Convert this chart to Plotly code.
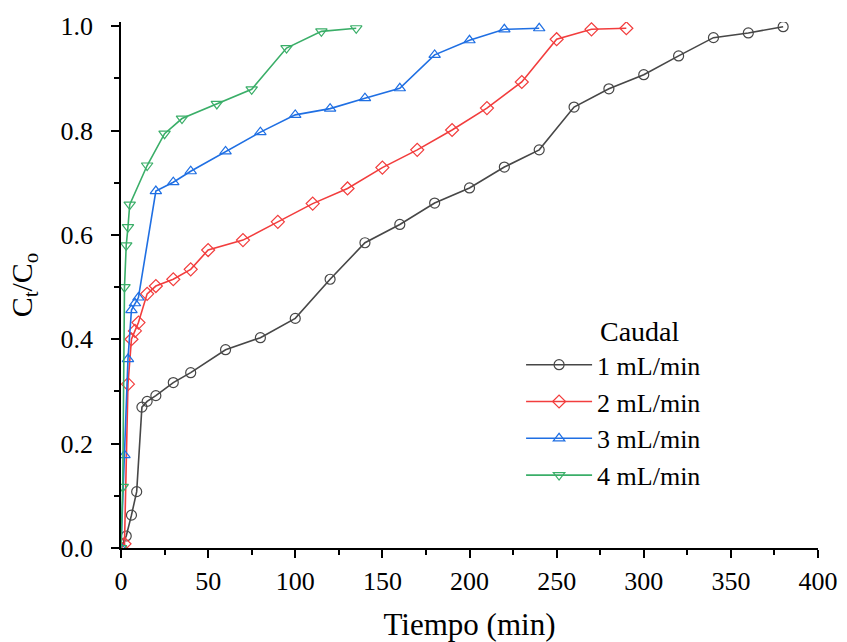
import plotly.graph_objects as go

# Caudal 1 mL/min
t1 = [0, 3, 6, 9, 12, 15, 20, 30, 40, 60, 80, 100, 120, 140, 160, 180, 200,
      220, 240, 260, 280, 300, 320, 340, 360, 380]
c1 = [0, 0.023, 0.063, 0.108, 0.270, 0.281, 0.292, 0.317, 0.336, 0.380, 0.403,
      0.440, 0.515, 0.585, 0.620, 0.661, 0.690, 0.730, 0.763, 0.845, 0.880,
      0.907, 0.943, 0.978, 0.987, 0.999]

# Caudal 2 mL/min
t2 = [0, 2, 4, 6, 8, 10, 15, 20, 30, 40, 50, 70, 90, 110, 130, 150, 170, 190,
      210, 230, 250, 270, 290]
c2 = [0, 0.008, 0.314, 0.400, 0.416, 0.432, 0.487, 0.502, 0.515, 0.534, 0.571,
      0.590, 0.625, 0.660, 0.689, 0.729, 0.763, 0.801, 0.843, 0.893, 0.975,
      0.994, 0.996]

# Caudal 3 mL/min
t3 = [0, 2, 4, 6, 8, 10, 20, 30, 40, 60, 80, 100, 120, 140, 160, 180, 200, 220, 240]
c3 = [0, 0.178, 0.362, 0.456, 0.469, 0.480, 0.684, 0.701, 0.722, 0.760, 0.797,
      0.830, 0.842, 0.862, 0.881, 0.945, 0.973, 0.994, 0.996]

# Caudal 4 mL/min
t4 = [0, 1, 2, 3, 4, 5, 15, 25, 35, 55, 75, 95, 115, 135]
c4 = [0, 0.117, 0.500, 0.580, 0.615, 0.658, 0.733, 0.794, 0.823, 0.851, 0.879,
      0.958, 0.990, 0.996]

series = [
    ("1 mL/min", t1, c1, "#474747", "circle-open"),
    ("2 mL/min", t2, c2, "#F23D3D", "diamond-open"),
    ("3 mL/min", t3, c3, "#1F6FE3", "triangle-up-open"),
    ("4 mL/min", t4, c4, "#3AAE68", "triangle-down-open"),
]

fig = go.Figure()
for name, t, c, col, sym in series:
    fig.add_trace(go.Scatter(
        x=t, y=c, name=name, mode="lines+markers",
        line=dict(color=col, width=1.6),
        marker=dict(symbol=sym, size=10, color=col, line=dict(width=1.2, color=col)),
    ))

font = "Liberation Serif, Times New Roman, serif"
fig.update_layout(
    width=847, height=642,
    margin=dict(l=121, r=29, t=22, b=94),
    plot_bgcolor="white", paper_bgcolor="white",
    font=dict(family=font, size=26, color="black"),
    showlegend=True,
    legend=dict(
        font=dict(size=26),
        x=0.574, y=0.393, xanchor="left", yanchor="top",
        bgcolor="rgba(0,0,0,0)",
        itemwidth=66,
    ),
    annotations=[dict(
        text="Caudal", x=0.684, y=0.4125, xref="paper", yref="paper",
        xanchor="left", yanchor="middle", showarrow=False,
        font=dict(size=28),
    )],
    xaxis=dict(
        range=[0, 400], tick0=0, dtick=50, automargin=False,
        showline=True, linecolor="black", linewidth=1.6,
        ticks="outside", ticklen=8, tickwidth=1.6, tickcolor="black",
        ticklabelstandoff=1,
        minor=dict(dtick=25, ticks="outside", ticklen=5, tickwidth=1.6, tickcolor="black"),
        showgrid=False, zeroline=False,
        title=dict(text="Tiempo (min)", font=dict(size=31), standoff=18),
    ),
    yaxis=dict(
        range=[0, 1.008], tick0=0, dtick=0.2, tickformat=".1f", automargin=False,
        showline=True, linecolor="black", linewidth=1.6,
        ticks="outside", ticklen=8, tickwidth=1.6, tickcolor="black",
        ticklabelstandoff=13,
        minor=dict(dtick=0.1, ticks="outside", ticklen=5, tickwidth=1.6, tickcolor="black"),
        showgrid=False, zeroline=False,
        title=dict(text="C<sub>t</sub>/C<sub>o</sub>", font=dict(size=30), standoff=19),
    ),
)

# the page's default body margin would push the figure off by 8 px
fig.write_html("out.html", config={"displayModeBar": False},
               post_script="document.body.style.margin='0';")
